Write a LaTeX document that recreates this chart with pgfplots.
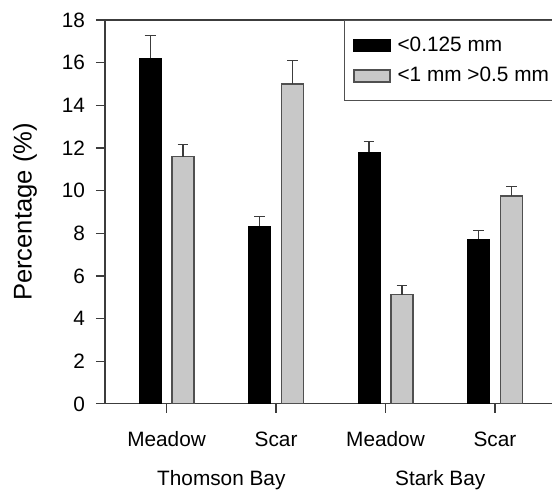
\documentclass[border=0pt]{standalone}
\usepackage{pgfplots}
\pgfplotsset{compat=1.18}
\usepackage{fontspec}
\setmainfont{Liberation Sans}
\definecolor{barGray}{RGB}{200,200,200}
\definecolor{edgeGray}{RGB}{80,80,80}
\definecolor{axGray}{RGB}{60,60,60}

% mean percentage and standard error, per site
\pgfplotstableread{
x y e
0 16.20 1.06
1 8.34 0.44
2 11.81 0.49
3 7.72 0.40
}\fine
\pgfplotstableread{
x y e
0 11.59 0.57
1 15.00 1.09
2 5.12 0.43
3 9.75 0.44
}\coarse

\begin{document}
\begin{tikzpicture}
\begin{axis}[
    scale only axis,
    width=225.85pt, height=192pt,
    xmin=-0.563, xmax=3.562,
    ymin=0, ymax=18,
    ytick={0,2,...,18},
    xtick={0,1,2,3},
    xticklabels={Meadow,Scar,Meadow,Scar},
    axis y line*=left,
    xtick pos=left,
    axis line style={axGray, line width=0.6pt, -},
    tick style={axGray, line width=0.6pt},
    tick align=outside,
    major tick length=4.5pt,
    /pgf/number format/assume math mode=true,
    tick label style={font=\fontsize{10.4}{12}\selectfont},
    yticklabel style={xshift=-2pt},
    xticklabel style={anchor=base, yshift=-17pt},
    ylabel={Percentage (\%)},
    ylabel style={at={(axis description cs:-0.177,0.5)}, anchor=center, font=\fontsize{12.8}{15}\selectfont},
    ybar, bar width=11pt,
    clip=false,
    legend image code/.code={\draw[#1] (0pt,-3pt) rectangle (18pt,3pt);},
    legend style={at={(axis description cs:0.529,1)}, anchor=north west,
        draw=edgeGray, line width=0.6pt, font=\fontsize{10.4}{12}\selectfont,
        inner xsep=4.5pt, inner ysep=6pt, row sep=2.5pt, column sep=1.5pt,
        cells={anchor=west}},
]
\addplot[fill=black, draw=black, bar shift=-8.25pt,
    error bars/.cd, y dir=plus, y explicit,
    error bar style={axGray, line width=0.6pt},
    error mark options={rotate=90, axGray, line width=0.6pt, mark size=2.7pt}]
    table[x=x, y=y, y error=e] {\fine};
\addlegendentry{<0.125 mm}
\addplot[fill=barGray, draw=edgeGray, line width=0.6pt, bar shift=8.25pt,
    error bars/.cd, y dir=plus, y explicit,
    error bar style={axGray, line width=0.6pt},
    error mark options={rotate=90, axGray, line width=0.6pt, mark size=2.7pt}]
    table[x=x, y=y, y error=e] {\coarse};
\addlegendentry{<1 mm >0.5 mm}

\node[anchor=base, font=\fontsize{10.4}{12}\selectfont] at (axis cs:0.5,-3.83) {Thomson Bay};
\node[anchor=base, font=\fontsize{10.4}{12}\selectfont] at (axis cs:2.5,-3.83) {Stark Bay};

\coordinate (bbA) at (axis cs:-1.522,-4.03);
\coordinate (bbB) at (axis cs:3.521,18.94);
\end{axis}
\pgfresetboundingbox
\path[use as bounding box] (bbA) rectangle (bbB);
\end{tikzpicture}
\end{document}
